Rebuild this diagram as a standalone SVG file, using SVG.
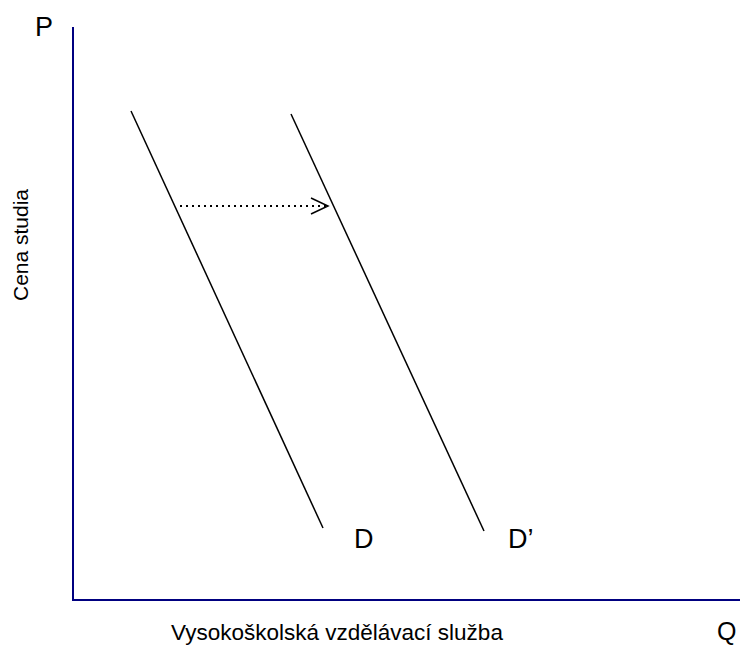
<svg xmlns="http://www.w3.org/2000/svg" width="744" height="646" viewBox="0 0 744 646">
<style>
.t{font-family:"Liberation Sans",Arial,sans-serif;fill:#000}
.ax{stroke:#000080;stroke-width:2;fill:none}
.c{stroke:#000;stroke-width:1.5;fill:none}
</style>
<defs>
<marker id="ar" markerWidth="20" markerHeight="20" refX="18" refY="9" orient="auto" markerUnits="userSpaceOnUse">
<path d="M1,1 L18,9 L1,17" stroke="#000" stroke-width="1.5" fill="none"/>
</marker>
</defs>
<rect width="744" height="646" fill="#fff"/>
<g id="axes">
<path class="ax" d="M73,27 L73,600 L740,600"/>
</g>
<g id="connectors">
<line id="D" class="c" x1="131" y1="111" x2="323" y2="528"/>
<line id="Dp" class="c" x1="291" y1="114" x2="484" y2="531"/>
<line id="shift" x1="180" y1="206" x2="328" y2="206" stroke="#000" stroke-width="2" stroke-dasharray="2,4" marker-end="url(#ar)"/>
</g>
<g id="labels">
<text class="t" x="35" y="36" font-size="27">P</text>
<text class="t" x="717" y="640" font-size="25">Q</text>
<text class="t" x="354" y="548" font-size="27">D</text>
<text class="t" x="508" y="548" font-size="27">D’</text>
<text class="t" x="337" y="640" font-size="22.5" text-anchor="middle">Vysokoškolská vzdělávací služba</text>
<text class="t" font-size="21" text-anchor="middle" transform="translate(28,245) rotate(-90)">Cena studia</text>
</g>
</svg>
